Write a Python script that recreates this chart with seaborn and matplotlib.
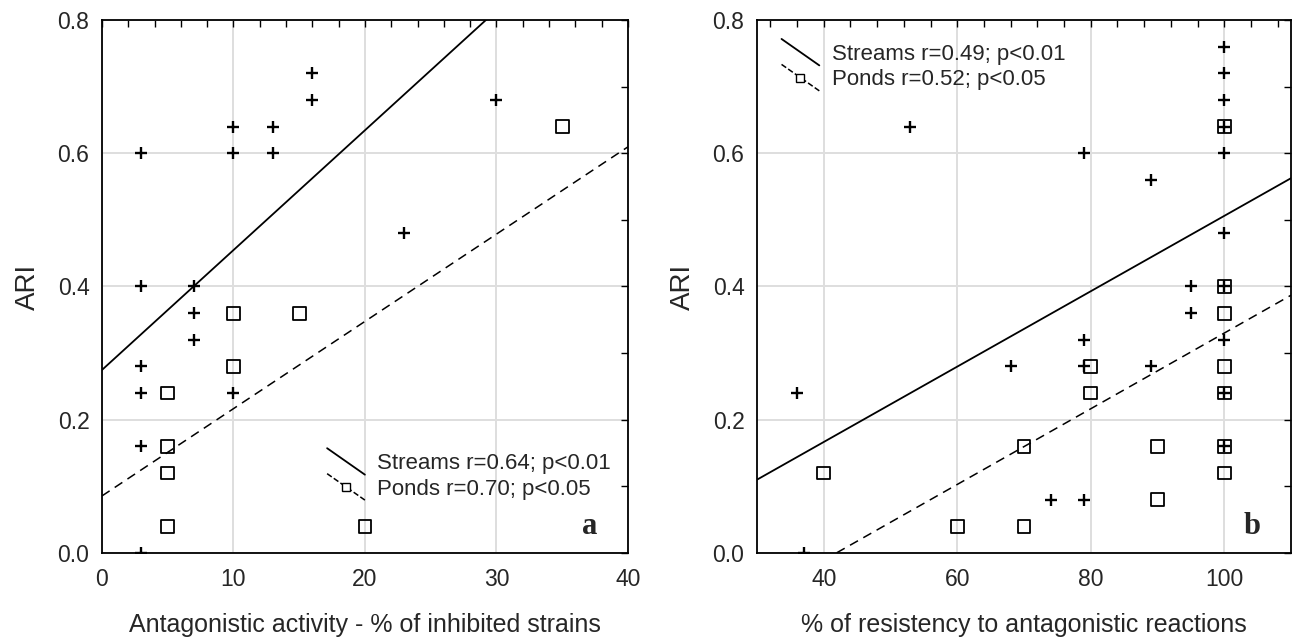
import numpy as np
import matplotlib
matplotlib.use("Agg")
import matplotlib.pyplot as plt
import seaborn as sns
from matplotlib.ticker import MultipleLocator
from matplotlib.legend_handler import HandlerBase
from matplotlib.lines import Line2D

# panel a: antagonistic activity vs ARI
a_streams_x = [3, 3, 3, 3, 3, 3, 7, 7, 7, 10, 10, 10, 13, 13, 16, 16, 23, 30]
a_streams_y = [0.60, 0.40, 0.28, 0.24, 0.16, 0.00, 0.40, 0.36, 0.32, 0.64, 0.60, 0.24,
               0.64, 0.60, 0.72, 0.68, 0.48, 0.68]
a_ponds_x = [5, 5, 5, 5, 10, 10, 15, 20, 35]
a_ponds_y = [0.24, 0.16, 0.12, 0.04, 0.36, 0.28, 0.36, 0.04, 0.64]

# panel b: resistency vs ARI
b_streams_x = [36, 37, 53, 68, 74, 79, 79, 79, 79, 89, 89, 95, 95,
               100, 100, 100, 100, 100, 100, 100, 100, 100, 100]
b_streams_y = [0.24, 0.00, 0.64, 0.28, 0.08, 0.60, 0.32, 0.28, 0.08, 0.56, 0.28, 0.40, 0.36,
               0.76, 0.72, 0.68, 0.64, 0.60, 0.48, 0.40, 0.32, 0.24, 0.16]
b_ponds_x = [40, 60, 70, 70, 80, 80, 90, 90, 100, 100, 100, 100, 100, 100, 100]
b_ponds_y = [0.12, 0.04, 0.16, 0.04, 0.28, 0.24, 0.16, 0.08, 0.64, 0.40, 0.36, 0.28,
             0.24, 0.16, 0.12]

# fitted lines (intercept, slope)
a_fit_streams = (0.2747, 0.01799)
a_fit_ponds = (0.0856, 0.0131)
b_fit_streams = (-0.0597, 0.005656)
b_fit_ponds = (-0.238, 0.00568)

a_labels = ["Streams r=0.64; p<0.01", "Ponds r=0.70; p<0.05"]
b_labels = ["Streams r=0.49; p<0.01", "Ponds r=0.52; p<0.05"]

sns.set_style("white")
plt.rcParams["font.family"] = ["Liberation Sans", "DejaVu Sans"]


class DiagonalHandler(HandlerBase):
    # statistica style slanted legend keys
    def create_artists(self, legend, orig_handle, xdescent, ydescent,
                       width, height, fontsize, trans):
        x0, x1 = -xdescent, -xdescent + width
        y0, y1 = -ydescent + height * 1.35, -ydescent - height * 0.35
        line = Line2D([x0, x1], [y0, y1], color="black",
                      linestyle=orig_handle.get_linestyle(),
                      linewidth=orig_handle.get_linewidth(), transform=trans)
        arts = [line]
        if orig_handle.get_marker() not in (None, "None", ""):
            mk = Line2D([(x0 + x1) / 2], [(y0 + y1) / 2], marker="s", markersize=6,
                        mfc="white", mec="black", mew=1.0, linestyle="none",
                        transform=trans)
            arts.append(mk)
        return arts


def draw_panel(ax, sx, sy, px, py, fit_s, fit_p, xlim, xmajor, xminor, labels,
               leg_loc, leg_anchor, letter, xlabel):
    ax.set_xlim(*xlim)
    ax.set_ylim(0, 0.8)
    xs = np.array(xlim, dtype=float)
    sns.lineplot(x=xs, y=fit_s[0] + fit_s[1] * xs, ax=ax, color="black", lw=1.3)
    sns.lineplot(x=xs, y=fit_p[0] + fit_p[1] * xs, ax=ax, color="black", lw=1.1,
                 linestyle=(0, (6, 4)))
    sns.scatterplot(x=sx, y=sy, ax=ax, marker="+", s=85, color="black",
                    linewidth=1.7, zorder=3)
    sns.scatterplot(x=px, y=py, ax=ax, marker="s", s=85, color="black",
                    facecolor="none", edgecolor="black", linewidth=1.3, zorder=3)

    ax.xaxis.set_major_locator(MultipleLocator(xmajor))
    ax.xaxis.set_minor_locator(MultipleLocator(xminor))
    ax.yaxis.set_major_locator(MultipleLocator(0.2))
    ax.yaxis.set_minor_locator(MultipleLocator(0.1))
    ax.yaxis.set_major_formatter(matplotlib.ticker.FormatStrFormatter("%.1f"))
    ax.grid(True, which="major", color="#dedede", lw=1.4)
    ax.set_axisbelow(True)
    ax.tick_params(which="both", direction="in", top=True, right=True,
                   length=5, width=1, color="black", labelsize=16.5)
    ax.tick_params(axis="x", which="both", pad=11)
    ax.tick_params(axis="y", which="both", pad=9)
    for sp in ax.spines.values():
        sp.set_color("black")
        sp.set_linewidth(1.3)

    ax.set_xlabel(xlabel, fontsize=18, labelpad=16)
    ax.set_ylabel("ARI", fontsize=20, labelpad=12)

    handles = [Line2D([], [], color="black", lw=1.3),
               Line2D([], [], color="black", lw=1.1, linestyle=(0, (3, 3)), marker="s")]
    ax.legend(handles, labels, loc=leg_loc, bbox_to_anchor=leg_anchor, frameon=False,
              fontsize=16, handlelength=1.7, handletextpad=0.55, labelspacing=0.2,
              borderpad=0, borderaxespad=0,
              handler_map={Line2D: DiagonalHandler()})
    ax.text(0.928, 0.05, letter, transform=ax.transAxes, ha="center", va="center",
            fontsize=22, fontweight="bold", family="Liberation Serif")


fig = plt.figure(figsize=(13.04, 6.4), dpi=100)
ax1 = fig.add_axes([0.0782, 0.136, 0.4034, 0.8328])
ax2 = fig.add_axes([0.5805, 0.136, 0.4095, 0.8328])

draw_panel(ax1, a_streams_x, a_streams_y, a_ponds_x, a_ponds_y, a_fit_streams, a_fit_ponds,
           (0, 40), 10, 2, a_labels, "lower left", (0.428, 0.10), "a",
           "Antagonistic activity - % of inhibited strains")
draw_panel(ax2, b_streams_x, b_streams_y, b_ponds_x, b_ponds_y, b_fit_streams, b_fit_ponds,
           (30, 110), 20, 4, b_labels, "upper left", (0.046, 0.955), "b",
           "% of resistency to antagonistic reactions")

plt.savefig("out.png", dpi=100)
